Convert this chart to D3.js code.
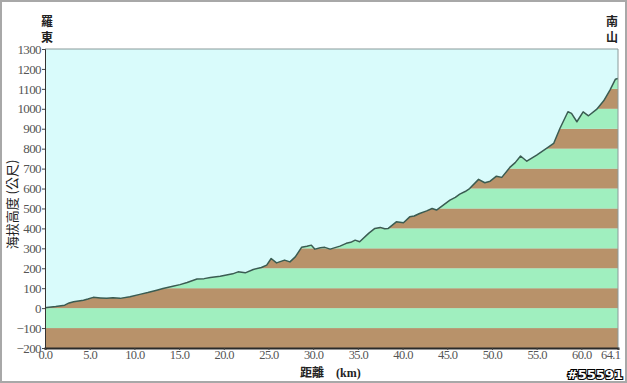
<!DOCTYPE html>
<html>
<head>
<meta charset="utf-8">
<script src="https://cdn.jsdelivr.net/npm/d3@7"></script>
<style>
  html, body { margin: 0; padding: 0; background: #fff; }
  svg { display: block; }
</style>
</head>
<body>
<svg id="chart" width="627" height="383"></svg>
<script>
// distance along the road (km) and elevation (m)
const distanceKm = [0, 0.2, 1.2, 2.2, 2.7, 3.2, 4.3, 4.8, 5.4, 6.2, 6.9, 7.6, 8.4, 9.5, 10.6, 11.5, 12.5,
  13.2, 14.3, 15.1, 15.9, 17.0, 17.8,
  18.5, 19.6, 20.3, 21.0, 21.6, 22.4, 23.3, 24.2, 24.8, 25.3, 25.9, 26.8, 27.4, 28.0, 28.7, 29.3, 29.8,
  30.2, 30.8, 31.3, 31.9, 33.0, 33.7, 34.2, 34.7, 35.2, 36.2, 36.9, 37.5, 38.0, 38.4, 39.3, 40.1, 40.8, 41.3, 41.9,
  42.7, 43.3, 43.8, 44.4, 45.3, 45.9, 46.4, 47.0, 47.5, 48.5, 49.2, 49.8, 50.5, 51.1, 52.0, 52.6, 53.2, 53.9,
  55.0, 56.1, 56.9, 57.6, 58.5, 58.9, 59.5, 60.2, 60.8, 61.7, 62.5, 63.2, 63.8, 64.1];
const elevationM = [2, 3, 8, 15, 26, 32, 40, 46, 54, 51, 49, 52, 49, 57, 69, 78, 90,
  98, 110, 118, 129, 146, 148,
  154, 160, 166, 172, 182, 177, 194, 204, 216, 249, 227, 241, 232, 257, 305, 310, 316,
  296, 303, 305, 296, 311, 325, 330, 341, 333, 375, 400, 405, 398, 400, 433, 428, 458, 462, 475,
  488, 500, 492, 512, 542, 556, 572, 585, 600, 646, 629, 637, 662, 656, 706, 730, 763, 737,
  768, 801, 826, 901, 985, 977, 935, 985, 965, 997, 1040, 1094, 1148, 1152];

const yTicks = [-200, -100, 0, 100, 200, 300, 400, 500, 600, 700, 800, 900, 1000, 1100, 1200, 1300];
const xTicks = [0, 5, 10, 15, 20, 25, 30, 35, 40, 45, 50, 55, 60, 64.1];
const startName = ["羅", "東"];
const endName = ["南", "山"];

const svg = d3.select("#chart");
const W = 627, H = 383;
const margin = { left: 45, right: 9, top: 49, bottom: 35 };
const x0 = margin.left, x1 = W - margin.right;
const y0 = H - margin.bottom, y1 = margin.top;

const x = d3.scaleLinear().domain([0, 64.1]).range([x0, x1]);
const y = d3.scaleLinear().domain([-200, 1300]).range([y0, y1]);

// outer frame
svg.append("rect")
  .attr("x", 1).attr("y", 1).attr("width", W - 2).attr("height", H - 2)
  .attr("fill", "#fff").attr("stroke", "#a8a8a8").attr("stroke-width", 2);

// sky
svg.append("rect")
  .attr("x", x0).attr("y", y1).attr("width", x1 - x0).attr("height", y0 - y1)
  .attr("fill", "#d9fbfb");

const pts = distanceKm.map((d, i) => [d, elevationM[i]]);

const area = d3.area()
  .x(d => x(d[0]))
  .y0(y(-200))
  .y1(d => y(d[1]));

svg.append("clipPath").attr("id", "ground")
  .append("path").attr("d", area(pts));

// alternating 100 m bands under the profile
const bands = svg.append("g").attr("clip-path", "url(#ground)");
bands.selectAll("rect")
  .data(yTicks.slice(0, -1))
  .join("rect")
  .attr("x", x0)
  .attr("width", x1 - x0)
  .attr("y", d => y(d + 100))
  .attr("height", d => y(d) - y(d + 100))
  .attr("fill", d => (Math.round(d / 100) % 2 === 0 ? "#b8926a" : "#a0efbf"));

// profile line
svg.append("path")
  .attr("d", d3.line().x(d => x(d[0])).y(d => y(d[1]))(pts))
  .attr("fill", "none")
  .attr("stroke", "#3a5c52")
  .attr("stroke-width", 1.5)
  .attr("stroke-linejoin", "round");

// plot border (top / right)
svg.append("path")
  .attr("d", `M${x0},${y1}H${x1}V${y0}`)
  .attr("fill", "none").attr("stroke", "#8a9a9a").attr("stroke-width", 1);

// y axis
const yAxis = svg.append("g")
  .attr("transform", `translate(${x0},0)`)
  .call(d3.axisLeft(y).tickValues(yTicks).tickSize(3).tickPadding(1).tickFormat(d3.format("d")));
yAxis.select(".domain").attr("stroke", "#333");
yAxis.selectAll(".tick line").attr("stroke", "#444");
yAxis.selectAll("text")
  .attr("font-family", "'Liberation Serif', serif")
  .attr("font-size", 13)
  .attr("letter-spacing", -0.6)
  .attr("fill", "#555");

// x axis
const xAxis = svg.append("g")
  .attr("transform", `translate(0,${y0})`)
  .call(d3.axisBottom(x).tickValues(xTicks).tickSize(2).tickPadding(0).tickFormat(d3.format(".1f")));
xAxis.select(".domain").attr("stroke", "#2a2a2a").attr("stroke-width", 2);
xAxis.selectAll(".tick line").attr("stroke", "#444");
xAxis.selectAll("text")
  .attr("font-family", "'Liberation Serif', serif")
  .attr("font-size", 12.5)
  .attr("letter-spacing", -0.6)
  .attr("fill", "#555");
xAxis.selectAll(".tick").filter(d => d === 64.1).select("text")
  .attr("text-anchor", "end").attr("dx", 2);

// end point names
const nameFont = "'Noto Sans CJK TC', sans-serif";
[[startName, x0 + 2], [endName, x1 - 6]].forEach(([chars, cx]) => {
  svg.append("g").selectAll("text")
    .data(chars)
    .join("text")
    .attr("x", cx)
    .attr("y", (d, i) => 26 + i * 16)
    .attr("text-anchor", "middle")
    .attr("font-family", nameFont)
    .attr("font-size", 12)
    .attr("font-weight", "bold")
    .attr("fill", "#222")
    .text(d => d);
});

// axis titles
svg.append("text")
  .attr("transform", `translate(17,${(y0 + y1) / 2 + 6}) rotate(-90)`)
  .attr("text-anchor", "middle")
  .attr("font-family", nameFont)
  .attr("font-size", 13)
  .attr("fill", "#222")
  .text("海拔高度 (公尺)");

const xt = svg.append("text")
  .attr("x", 300).attr("y", 377)
  .attr("font-family", nameFont)
  .attr("font-size", 12)
  .attr("fill", "#222");
xt.append("tspan").attr("font-weight", "bold").text("距離");
xt.append("tspan").attr("dx", 12).attr("font-family", "'Liberation Serif', serif").attr("font-weight", "bold").text("(km)");

// id mark
svg.append("text")
  .attr("x", 623).attr("y", 379)
  .attr("text-anchor", "end")
  .attr("font-family", "'DejaVu Sans', sans-serif")
  .attr("font-size", 13)
  .attr("font-weight", "bold")
  .attr("fill", "#fff")
  .attr("stroke", "#000")
  .attr("stroke-width", 2.2)
  .attr("paint-order", "stroke")
  .text("#55591");
</script>
</body>
</html>
